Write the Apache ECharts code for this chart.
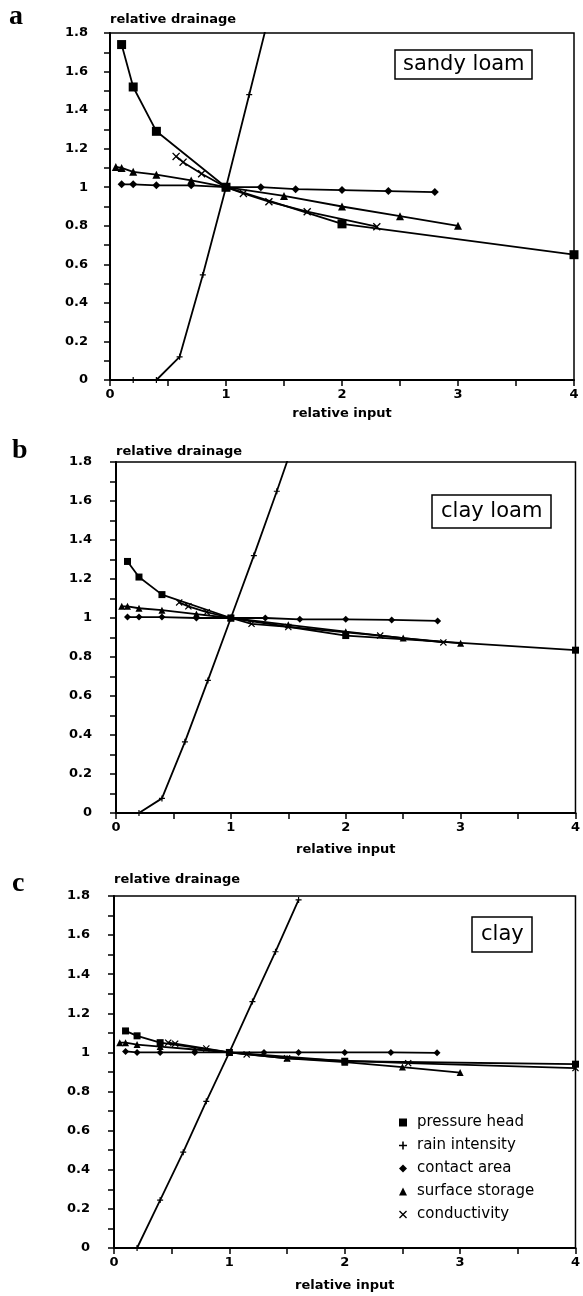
<!DOCTYPE html>
<html><head><meta charset="utf-8">
<script src="https://cdn.jsdelivr.net/npm/echarts@6/dist/echarts.min.js"></script>
<style>html,body{margin:0;padding:0;background:#fff}#c{width:583px;height:1296px}</style>
</head><body><div id="c"></div>
<script>
// ---------- data ----------
const seriesNames = ['pressure head','rain intensity','contact area','surface storage','conductivity'];
const panelTitles = ['sandy loam','clay loam','clay'];
const panelLetters = ['a','b','c'];
const xTickLabels = ['0','1','2','3','4'];

// panel a (sandy loam)
const aPressureX = [0.1,0.2,0.4,1,2,4];
const aPressureY = [1.74,1.52,1.29,1,0.81,0.65];
const aRainX = [0.2,0.4,0.6,0.8,1,1.2,1.4];
const aRainY = [0,0,0.12,0.545,1,1.48,1.96];
const aContactX = [0.1,0.2,0.4,0.7,1,1.3,1.6,2,2.4,2.8];
const aContactY = [1.015,1.015,1.01,1.01,1,1.0,0.99,0.985,0.98,0.975];
const aStorageX = [0.05,0.1,0.2,0.4,0.7,1,1.5,2,2.5,3];
const aStorageY = [1.105,1.1,1.08,1.065,1.035,1,0.955,0.9,0.85,0.8];
const aCondX = [0.57,0.63,0.79,1,1.15,1.37,1.7,2.3];
const aCondY = [1.16,1.13,1.07,1,0.968,0.925,0.873,0.795];

// panel b (clay loam)
const bPressureX = [0.1,0.2,0.4,1,2,4];
const bPressureY = [1.29,1.21,1.12,1,0.91,0.835];
const bRainX = [0.2,0.4,0.6,0.8,1,1.2,1.4,1.6];
const bRainY = [0,0.075,0.365,0.68,1,1.32,1.65,1.99];
const bContactX = [0.1,0.2,0.4,0.7,1,1.3,1.6,2,2.4,2.8];
const bContactY = [1.005,1.005,1.005,1.0,1,1.0,0.993,0.993,0.99,0.985];
const bStorageX = [0.05,0.1,0.2,0.4,0.7,1,1.5,2,2.5,3];
const bStorageY = [1.06,1.06,1.05,1.04,1.02,1,0.965,0.93,0.897,0.87];
const bCondX = [0.55,0.63,0.79,1,1.18,1.5,2.3,2.85];
const bCondY = [1.08,1.06,1.03,1,0.97,0.954,0.91,0.875];

// panel c (clay)
const cPressureX = [0.1,0.2,0.4,1,2,4];
const cPressureY = [1.11,1.085,1.05,1,0.955,0.94];
const cRainX = [0.2,0.4,0.6,0.8,1,1.2,1.4,1.6];
const cRainY = [0,0.245,0.49,0.75,1,1.26,1.515,1.78];
const cContactX = [0.1,0.2,0.4,0.7,1,1.3,1.6,2,2.4,2.8];
const cContactY = [1.005,1.0,1.0,1.0,1,1.0,1.0,1.0,1.0,0.998];
const cStorageX = [0.05,0.1,0.2,0.4,0.7,1,1.5,2,2.5,3];
const cStorageY = [1.05,1.05,1.04,1.03,1.015,1,0.97,0.95,0.925,0.897];
const cCondX = [0.47,0.53,0.8,1,1.15,1.5,2.55,4];
const cCondY = [1.05,1.045,1.02,1,0.99,0.97,0.945,0.92];

// ---------- build ----------
const zip = (xs, ys) => xs.map((x, i) => [x, ys[i]]);
const panels = [
  [zip(aPressureX,aPressureY), zip(aRainX,aRainY), zip(aContactX,aContactY), zip(aStorageX,aStorageY), zip(aCondX,aCondY)],
  [zip(bPressureX,bPressureY), zip(bRainX,bRainY), zip(bContactX,bContactY), zip(bStorageX,bStorageY), zip(bCondX,bCondY)],
  [zip(cPressureX,cPressureY), zip(cRainX,cRainY), zip(cContactX,cContactY), zip(cStorageX,cStorageY), zip(cCondX,cCondY)]
];

const PLUS = 'path://M4,0H6V4H10V6H6V10H4V6H0V4H4Z';
const CROSS = 'path://M0,1.2L1.2,0L5,3.8L8.8,0L10,1.2L6.2,5L10,8.8L8.8,10L5,6.2L1.2,10L0,8.8L3.8,5Z';
const symbols = ['rect', PLUS, 'diamond', 'triangle', CROSS];
const symSizes = [[9,7,7],[6,6,6],[8,7,7],[8,7,7],[8,7,7]];

const grids = [
  {left:110, top:33, width:464, height:347},
  {left:116, top:462, width:463, height:351},
  {left:114, top:896, width:466, height:352}
];
const FONT = 'DejaVu Sans';

const option = {
  animation:false,
  backgroundColor:'#fff',
  textStyle:{fontFamily:FONT, color:'#000'},
  grid: grids.map(g => Object.assign({show:true, borderColor:'#000', borderWidth:1.5, backgroundColor:'transparent'}, g)),
  xAxis: grids.map((g, i) => ({
    gridIndex:i, type:'value', min:0, max:4, interval:1,
    name:'relative input', nameLocation:'middle', nameGap:[27,30,31][i],
    nameTextStyle:{fontFamily:FONT, fontSize:13, fontWeight:'bold', color:'#000'},
    axisLine:{show:true, onZero:false, lineStyle:{color:'#000', width:2}},
    axisTick:{show:true, inside:false, length:6, lineStyle:{color:'#000', width:1.5}},
    minorTick:{show:true, splitNumber:2, length:6, lineStyle:{color:'#000', width:1.5}},
    axisLabel:{fontFamily:FONT, fontSize:13, fontWeight:'bold', color:'#000', margin:8,
      formatter:(v)=>xTickLabels[Math.round(v)]},
    splitLine:{show:false}
  })),
  yAxis: grids.map((g, i) => ({
    gridIndex:i, type:'value', min:0, max:1.8, interval:0.2,
    axisLine:{show:true, onZero:false, lineStyle:{color:'#000', width:2}},
    axisTick:{show:true, inside:false, length:6, lineStyle:{color:'#000', width:1.5}},
    minorTick:{show:true, splitNumber:2, length:6, lineStyle:{color:'#000', width:1.5}},
    axisLabel:{fontFamily:FONT, fontSize:13, fontWeight:'bold', color:'#000', margin:[22,24,24][i]},
    splitLine:{show:false}
  })),
  title: [],
  legend: {
    left:394, top:1110, orient:'vertical', itemWidth:8, itemHeight:8, itemGap:8,
    textStyle:{fontFamily:FONT, fontSize:15, color:'#000', lineHeight:15, padding:[0,0,0,5]},
    data: seriesNames.map((n, k) => ({name:n, icon:symbols[k]}))
  },
  series: []
};

// panel letters, y-axis names, soil boxes
const letterTops = [3, 437, 870];
const letterLefts = [9, 12, 12];
const ynameTops = [13, 445, 873];
const boxPos = [[395,50,[4,8]],[432,495,[6,9]],[472,917,[7,9]]];
for (let i = 0; i < 3; i++) {
  option.title.push({text:panelLetters[i], left:letterLefts[i], top:letterTops[i], padding:0,
    textStyle:{fontFamily:'Liberation Serif', fontSize:28, fontWeight:'bold', color:'#000'}});
  option.title.push({text:'relative drainage', left:grids[i].left, top:ynameTops[i], padding:0,
    textStyle:{fontFamily:FONT, fontSize:13, fontWeight:'bold', color:'#000'}});
  option.title.push({text:panelTitles[i], left:boxPos[i][0], top:boxPos[i][1], padding:boxPos[i][2],
    borderColor:'#000', borderWidth:1.5, backgroundColor:'#fff',
    textStyle:{fontFamily:FONT, fontSize:21, fontWeight:'normal', color:'#000'}});
}

panels.forEach((pdata, i) => {
  pdata.forEach((d, k) => {
    option.series.push({
      name:seriesNames[k], type:'line', xAxisIndex:i, yAxisIndex:i, data:d,
      symbol:symbols[k], symbolSize:symSizes[k][i], showSymbol:true, clip:true,
      lineStyle:{color:'#000', width:1.8}, itemStyle:{color:'#000', borderColor:'#000', borderWidth:0},
      z: 3
    });
  });
});

const chart = echarts.init(document.getElementById('c'), null, {renderer:'canvas'});
chart.setOption(option);
</script></body></html>
